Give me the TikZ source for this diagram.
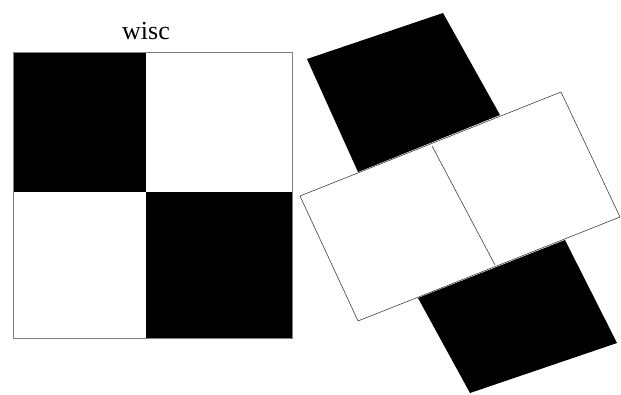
\documentclass[tikz,border=0pt]{standalone}
\usepackage{fontspec}
\setmainfont{Liberation Serif}
\begin{document}
\begin{tikzpicture}[x=1pt,y=-1pt]
        \useasboundingbox (0,0) rectangle (621,394);
        % plain board
        \coordinate (NW) at (13,52);
        \coordinate (M) at (146,192);
        \coordinate (SE) at (292,338);
        \fill[black] (NW) rectangle (M);
        \fill[black] (M) rectangle (SE);
        \draw[gray, line width=0.8pt] (NW) rectangle (SE);
        \node[anchor=base, inner sep=0pt] (lbl) at (146,39) {\fontsize{26}{26}\selectfont wisc};
        % tilted board
        \coordinate (W1) at (300,196);
        \coordinate (W2) at (561,92);
        \coordinate (W3) at (620,217);
        \coordinate (W4) at (358,321);
        \draw[gray!50!black, line width=0.6pt] (W1) -- (W2) -- (W3) -- (W4) -- cycle;
        \draw[gray!50!black, line width=0.6pt] (432,146) -- (495,265);
        \fill[black] (307,59) -- (443,13) -- (500,115) -- (358,172) -- cycle;
        \fill[black] (418,298) -- (565,240) -- (617,343) -- (470,393) -- cycle;
    \end{tikzpicture}
\end{document}
